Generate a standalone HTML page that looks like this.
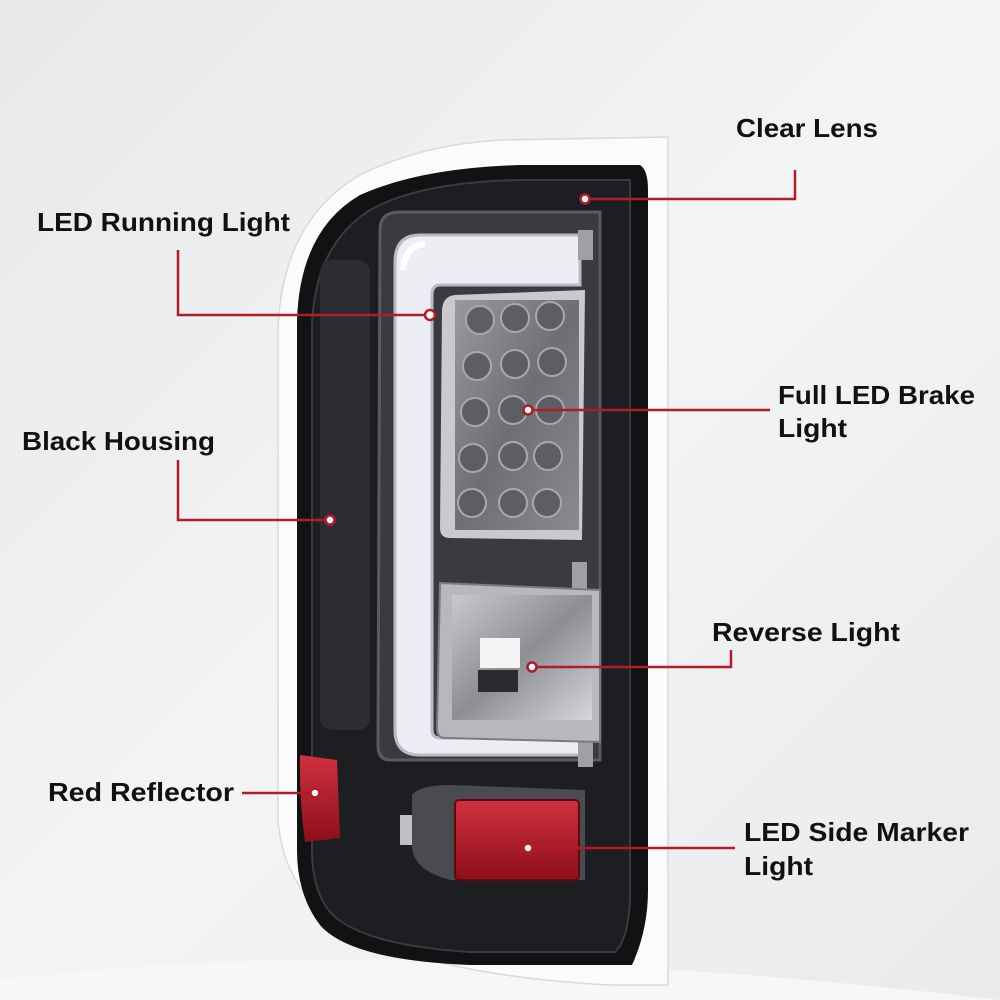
<!DOCTYPE html>
<html><head><style>
html,body{margin:0;padding:0;width:1000px;height:1000px;overflow:hidden;background:#eceef0}
svg{display:block}
text{font-family:"Liberation Sans",sans-serif;font-weight:bold;font-size:26px;fill:#111}
</style></head><body>
<svg width="1000" height="1000" viewBox="0 0 1000 1000">
<defs>
<linearGradient id="bg" x1="0" y1="0" x2="1" y2="1">
<stop offset="0" stop-color="#e6e8ea"/><stop offset="0.5" stop-color="#f3f4f5"/><stop offset="1" stop-color="#e8eaec"/></linearGradient>
<linearGradient id="led" x1="0" y1="0" x2="1" y2="1">
<stop offset="0" stop-color="#9a9a9e"/><stop offset="0.5" stop-color="#6e6f74"/><stop offset="1" stop-color="#8a8b90"/></linearGradient>
<linearGradient id="rev" x1="0" y1="0" x2="1" y2="1">
<stop offset="0" stop-color="#c8c9cc"/><stop offset="0.5" stop-color="#8d8e92"/><stop offset="1" stop-color="#d6d7da"/></linearGradient>
<linearGradient id="red" x1="0" y1="0" x2="0" y2="1">
<stop offset="0" stop-color="#d0313d"/><stop offset="1" stop-color="#8c0f1a"/></linearGradient>
</defs>
<rect width="1000" height="1000" fill="url(#bg)"/>
<path d="M0 980 Q400 930 1000 1000 L0 1000Z" fill="#f6f7f8"/>
<path d="M668 137 L668 985 L610 985 Q420 975 330 920 Q282 880 278 820 L278 330 Q282 220 360 175 Q420 145 500 140 Z" fill="#fbfbfb" stroke="#d8d9db" stroke-width="1.5"/>
<path d="M640 165 Q648 170 648 190 L648 890 Q648 930 632 965 L470 965 Q350 960 320 925 Q297 895 297 850 L297 320 Q300 230 360 195 Q420 168 520 165 Z" fill="#111214"/>
<path d="M630 180 L630 900 Q628 940 615 952 L470 952 Q360 945 330 912 Q312 890 312 850 L312 325 Q315 245 370 210 Q420 182 520 180 Z" fill="#1d1e21" stroke="#3a3b3f" stroke-width="2"/>
<rect x="320" y="260" width="50" height="470" rx="12" fill="#2c2d31"/>
<path d="M380 230 Q380 212 400 212 L600 212 L600 760 L390 760 Q378 760 378 745 Z" fill="#3a3b3f" stroke="#5a5b60" stroke-width="3"/>
<path d="M395 262 Q395 235 420 235 L580 235 L580 285 L440 285 Q432 285 432 295 L432 730 Q432 738 440 738 L580 738 L580 755 L420 755 Q395 755 395 730 Z" fill="#eceef3" stroke="#b9bcc4" stroke-width="3"/>
<path d="M403 270 Q405 245 425 244" stroke="#ffffff" stroke-width="6" fill="none"/>
<rect x="578" y="230" width="15" height="30" fill="#9fa0a4"/>
<rect x="572" y="562" width="15" height="30" fill="#9fa0a4"/>
<rect x="578" y="742" width="15" height="25" fill="#9fa0a4"/>
<path d="M455 295 L585 290 L582 540 L450 538 Q440 538 440 528 L442 310 Q443 296 455 295Z" fill="#c9cacd"/>
<rect x="455" y="300" width="124" height="230" fill="url(#led)"/>
<g fill="#5d5e63" stroke="#a8a9ad" stroke-width="2">
<circle cx="480" cy="320" r="14"/><circle cx="515" cy="318" r="14"/><circle cx="550" cy="316" r="14"/>
<circle cx="477" cy="366" r="14"/><circle cx="515" cy="364" r="14"/><circle cx="552" cy="362" r="14"/>
<circle cx="475" cy="412" r="14"/><circle cx="513" cy="410" r="14"/><circle cx="550" cy="410" r="14"/>
<circle cx="473" cy="458" r="14"/><circle cx="513" cy="456" r="14"/><circle cx="548" cy="456" r="14"/>
<circle cx="472" cy="503" r="14"/><circle cx="513" cy="503" r="14"/><circle cx="547" cy="503" r="14"/>
</g>
<path d="M440 583 L600 590 L600 742 L445 738 Q437 738 437 728 Z" fill="#b7b8bc" stroke="#7a7b80" stroke-width="2"/>
<rect x="452" y="595" width="140" height="125" fill="url(#rev)"/>
<rect x="480" y="638" width="40" height="30" fill="#f4f4f6"/>
<rect x="478" y="670" width="40" height="22" fill="#2a2b2f"/>
<path d="M412 795 Q420 785 450 785 L585 790 L585 880 L450 880 Q412 870 412 845Z" fill="#4a4b50"/>
<rect x="400" y="815" width="12" height="30" fill="#bfc0c4"/>
<rect x="455" y="800" width="124" height="80" rx="4" fill="url(#red)" stroke="#5c0b12" stroke-width="2"/>
<path d="M300 755 L337 760 L340 838 L305 842 Q299 800 300 755Z" fill="url(#red)"/>
<g stroke="#b31a2a" stroke-width="2.5" fill="none">
<polyline points="795,170 795,199 585,199"/>
<polyline points="178,250 178,315 430,315"/>
<polyline points="770,410 528,410"/>
<polyline points="178,460 178,520 330,520"/>
<polyline points="731,650 731,667 532,667"/>
<polyline points="242,793 315,793"/>
<polyline points="735,848 528,848"/>
</g>
<g fill="#fff" stroke="#b31a2a" stroke-width="2.5">
<circle cx="585" cy="199" r="4.5"/><circle cx="430" cy="315" r="5"/><circle cx="528" cy="410" r="4.5"/>
<circle cx="330" cy="520" r="4.5"/><circle cx="532" cy="667" r="4.5"/><circle cx="315" cy="793" r="4.5"/>
<circle cx="528" cy="848" r="4.5"/>
</g>
<text x="736" y="137" textLength="142" lengthAdjust="spacingAndGlyphs">Clear Lens</text>
<text x="37" y="231" textLength="253" lengthAdjust="spacingAndGlyphs">LED Running Light</text>
<text x="778" y="404" textLength="197" lengthAdjust="spacingAndGlyphs">Full LED Brake</text>
<text x="778" y="437" textLength="69" lengthAdjust="spacingAndGlyphs">Light</text>
<text x="22" y="450" textLength="193" lengthAdjust="spacingAndGlyphs">Black Housing</text>
<text x="712" y="641" textLength="188" lengthAdjust="spacingAndGlyphs">Reverse Light</text>
<text x="48" y="801" textLength="186" lengthAdjust="spacingAndGlyphs">Red Reflector</text>
<text x="744" y="841" textLength="225" lengthAdjust="spacingAndGlyphs">LED Side Marker</text>
<text x="744" y="875" textLength="69" lengthAdjust="spacingAndGlyphs">Light</text>
</svg>
</body></html>
